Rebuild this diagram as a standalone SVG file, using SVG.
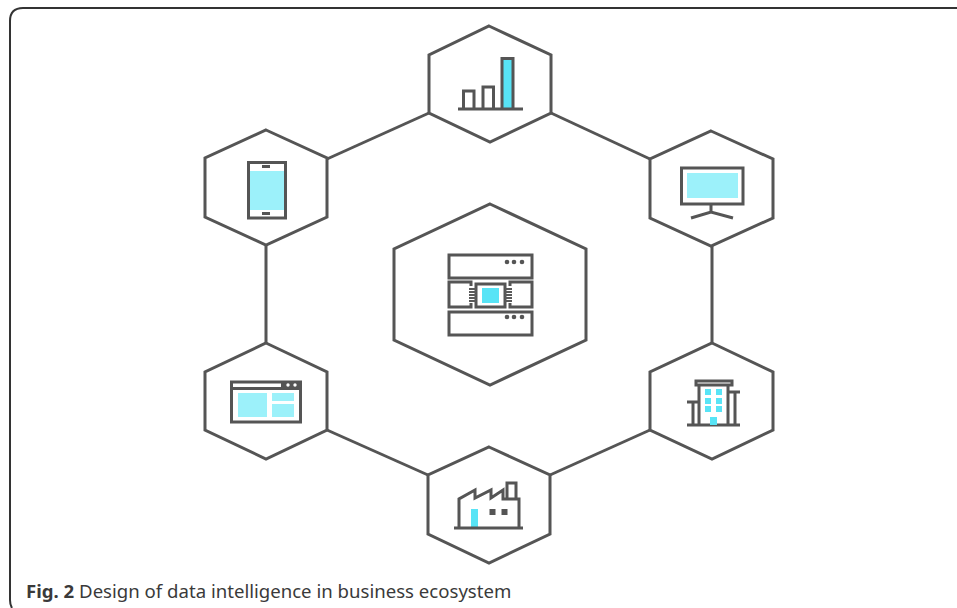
<svg xmlns="http://www.w3.org/2000/svg" width="957" height="608" viewBox="0 0 957 608">
<style>
.hex{fill:#fff;stroke:#555;stroke-width:3;stroke-linejoin:miter}
.con{fill:none;stroke:#555;stroke-width:3}
.ln{fill:none;stroke:#555;stroke-width:3}
.thin{fill:none;stroke:#5a5a5a;stroke-width:1.8}
.dk{fill:#555}
.lt{fill:#9cf1fa}
.br{fill:#58e4f6}
.cap{font-family:"Noto Sans","Open Sans",sans-serif;font-size:18.6px;fill:#3a3a3a}
</style>
<defs><filter id="soft" x="-5%" y="-5%" width="110%" height="110%"><feGaussianBlur stdDeviation="0.7"/></filter></defs>
<rect width="957" height="608" fill="#fff"/>
<path id="frame" d="M957 8H23Q10 8 10 21V600Q10 605 12 608" fill="none" stroke="#333" stroke-width="2"/>
<g filter="url(#soft)">
<g id="connectors" class="con">
<path d="M429 113L327 159"/><path d="M551 113L650 159"/><path d="M712 246V343"/><path d="M650 430L550 475"/><path d="M428 475L327 430"/><path d="M266 245V343"/>
</g>
<g id="node-center">
<polygon class="hex" points="490,204 586,249 586,340 490,385 394,340 394,249"/>
<rect class="ln" x="449" y="255" width="83" height="23"/>
<rect class="ln" x="449" y="312" width="83" height="23"/>
<path class="ln" d="M471 286V282H449V307H471V303M510 286V282H532V307H510V303"/>
<rect class="ln" x="476" y="284" width="29" height="23"/>
<rect class="br" x="482" y="288" width="17" height="15"/>
<path class="thin" d="M469 289H476M469 292H476M469 295H476M469 298H476M469 301H476M505 289H512M505 292H512M505 295H512M505 298H512M505 301H512"/>
<g class="dk"><circle cx="507" cy="262" r="2.300"/><circle cx="514" cy="262" r="2.300"/><circle cx="522" cy="262" r="2.300"/><circle cx="507" cy="317" r="2.300"/><circle cx="514" cy="317" r="2.300"/><circle cx="522" cy="317" r="2.300"/></g>
</g>
<g id="node-chart">
<polygon class="hex" points="489,26 551,55 551,113 490,142 429,113 429,55"/>
<rect class="br" x="503" y="59" width="9" height="50"/>
<path class="ln" d="M458 109H523M463.500 109V91H474V109M483 109V87H493.500V109M502 109V58.500H513V109"/>
</g>
<g id="node-monitor">
<polygon class="hex" points="711,131 773,159 773,218 711,246 650,218 650,159"/>
<rect class="lt" x="687" y="173" width="51" height="25"/>
<rect class="ln" x="681.500" y="168" width="61.500" height="36"/>
<path class="ln" d="M711 204V212M691 218L711 212L733 218"/>
</g>
<g id="node-building">
<polygon class="hex" points="712,343 773,372 773,430 712,459 650,430 650,372"/>
<path class="ln" d="M687 425H740M699 385V425M728 385V425M687 402H699M693 402V425M728 392H740M735 392V425"/>
<rect class="ln" x="696" y="381" width="36" height="4"/>
<g class="br"><rect x="705" y="389" width="6" height="6"/><rect x="716" y="389" width="6" height="6"/><rect x="705" y="398" width="6" height="6"/><rect x="716" y="398" width="6" height="6"/><rect x="705" y="406" width="6" height="6"/><rect x="716" y="406" width="6" height="6"/><rect x="710" y="417" width="7" height="8"/></g>
</g>
<g id="node-factory">
<polygon class="hex" points="489,447 550,475 550,534 489,563 428,534 428,475"/>
<rect class="br" x="471" y="509" width="7" height="19"/>
<path class="ln" d="M454 528H523M459 528V499L475 490V498L491 490V498L503 490V499H519V528M507 499V483H516V499"/>
<rect class="dk" x="489.500" y="509" width="6" height="6"/><rect class="dk" x="501.500" y="509" width="6" height="6"/>
</g>
<g id="node-browser">
<polygon class="hex" points="266,343 327,372 327,430 266,459 205,430 205,372"/>
<rect class="lt" x="238" y="393" width="29" height="24"/>
<rect class="lt" x="272" y="393" width="22" height="8"/>
<rect class="lt" x="272" y="404" width="22" height="13"/>
<rect class="dk" x="281" y="382" width="20" height="6"/>
<rect class="ln" x="231.500" y="382" width="69" height="40"/>
<path class="ln" d="M232 388.500H300"/>
<circle cx="288" cy="385" r="1.700" fill="#fff"/><circle cx="295" cy="385" r="1.700" fill="#fff"/>
</g>
<g id="node-tablet">
<polygon class="hex" points="266,130 327,158 327,217 266,245 205,217 205,158"/>
<rect class="lt" x="250" y="171" width="34" height="39"/>
<rect class="ln" x="248.500" y="162.500" width="37" height="55.500"/>
<rect class="dk" x="262" y="165" width="8" height="3"/><rect class="dk" x="262" y="212" width="8" height="3"/>
</g>
</g>
<text class="cap" x="26" y="598"><tspan font-weight="700">Fig. 2</tspan> Design of data intelligence in business ecosystem</text>
</svg>
